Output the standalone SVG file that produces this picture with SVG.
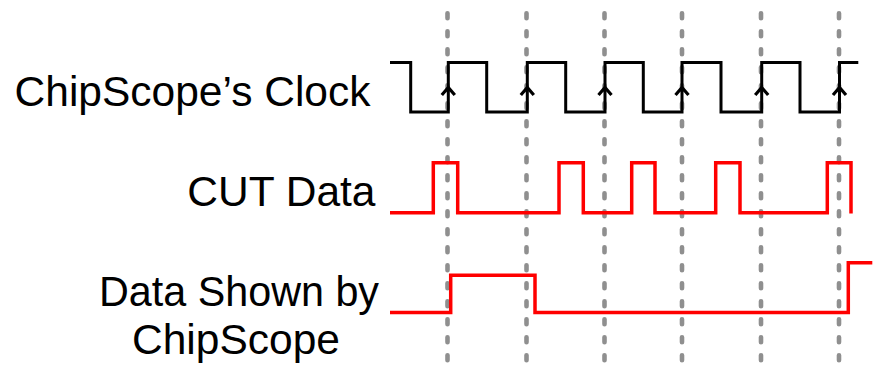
<svg xmlns="http://www.w3.org/2000/svg" width="881" height="368" viewBox="0 0 881 368">
<style>
.lbl{font-family:"Liberation Sans",Arial,sans-serif;font-size:42.5px;fill:#000}
.grid{stroke:#8f8f8f;stroke-width:4.6;stroke-dasharray:5 13;stroke-linecap:round;fill:none}
.clk{stroke:#000;stroke-width:3;fill:none;stroke-linejoin:miter}
.sig{stroke:#ff0000;stroke-width:3.5;fill:none;stroke-linejoin:miter}
.chev{stroke:#000;stroke-width:3.2;fill:none}
</style>
<rect width="881" height="368" fill="#fff"/>
<g id="gridlines">
<line class="grid" x1="447.5" y1="13.3" x2="447.5" y2="368"/>
<line class="grid" x1="526.5" y1="13.3" x2="526.5" y2="368"/>
<line class="grid" x1="604.5" y1="13.3" x2="604.5" y2="368"/>
<line class="grid" x1="682" y1="13.3" x2="682" y2="368"/>
<line class="grid" x1="761" y1="13.3" x2="761" y2="368"/>
<line class="grid" x1="839" y1="13.3" x2="839" y2="368"/>
</g>
<g id="labels">
<text class="lbl" x="370.5" y="105.5" text-anchor="end">ChipScope’s Clock</text>
<text class="lbl" x="375.5" y="205.5" text-anchor="end">CUT Data</text>
<text class="lbl" x="239" y="306" text-anchor="middle" textLength="280" lengthAdjust="spacingAndGlyphs">Data Shown by</text>
<text class="lbl" x="236" y="354" text-anchor="middle">ChipScope</text>
</g>
<g id="clock">
<path class="clk" d="M390,62.5 H410.7 V112 H448.3 V62.5 H486.7 V112 H527.3 V62.5 H565.7 V112 H605 V62.5 H643.3 V112 H682 V62.5 H721 V112 H761.7 V62.5 H800 V112 H839.5 V62.5 H858.3"/>
<g id="edge-markers">
<path class="chev" d="M441.8,95 L448.3,87.5 L454.8,95"/>
<path class="chev" d="M520.8,95 L527.3,87.5 L533.8,95"/>
<path class="chev" d="M598.5,95 L605,87.5 L611.5,95"/>
<path class="chev" d="M675.5,95 L682,87.5 L688.5,95"/>
<path class="chev" d="M755.2,95 L761.7,87.5 L768.2,95"/>
<path class="chev" d="M833,95 L839.5,87.5 L846,95"/>
</g>
</g>
<g id="cut-data">
<path class="sig" d="M390,212.7 H433.3 V162.7 H457.7 V212.7 H559 V162.7 H583.3 V212.7 H631.7 V162.7 H655 V212.7 H715.7 V162.7 H740 V212.7 H827.3 V162.7 H851 V213.5"/>
</g>
<g id="data-shown">
<path class="sig" d="M390,312.5 H450.7 V275.3 H535 V312.5 H848.3 V262.7 H872.3"/>
</g>
</svg>
